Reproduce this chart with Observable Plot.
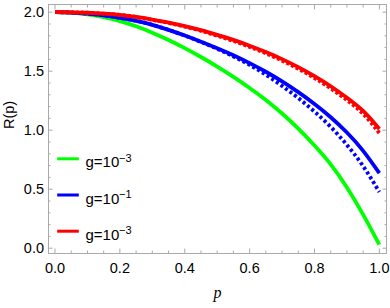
<!DOCTYPE html>
<html>
<head>
<meta charset="utf-8">
<script src="https://cdn.jsdelivr.net/npm/d3@7"></script>
<script src="https://cdn.jsdelivr.net/npm/@observablehq/plot@0.6"></script>
<style>
  html, body { margin: 0; padding: 0; background: #fff; }
</style>
</head>
<body>
<div id="chart"></div>
<script>
// ---- data ----
const pValues = [0, 0.05, 0.1, 0.15, 0.2, 0.25, 0.3, 0.35, 0.4, 0.45, 0.5, 0.55, 0.6, 0.65, 0.7, 0.75, 0.8, 0.85, 0.9, 0.95, 1.0];
const greenR      = [2.0, 1.996, 1.982, 1.958, 1.924, 1.880, 1.826, 1.764, 1.695, 1.620, 1.539, 1.452, 1.358, 1.256, 1.141, 1.013, 0.870, 0.710, 0.515, 0.285, 0.030];
const blueR       = [2.0, 1.997, 1.987, 1.972, 1.952, 1.927, 1.893, 1.850, 1.802, 1.750, 1.695, 1.635, 1.568, 1.495, 1.413, 1.322, 1.222, 1.110, 0.980, 0.825, 0.636];
const blueDashedR = [2.0, 1.997, 1.987, 1.972, 1.952, 1.927, 1.893, 1.850, 1.802, 1.748, 1.690, 1.625, 1.553, 1.470, 1.375, 1.272, 1.157, 1.028, 0.875, 0.695, 0.476];
const redR        = [2.0, 1.999, 1.995, 1.988, 1.978, 1.960, 1.937, 1.912, 1.882, 1.848, 1.808, 1.765, 1.716, 1.662, 1.602, 1.534, 1.458, 1.372, 1.275, 1.163, 1.010];
const redDashedR  = [2.0, 1.999, 1.995, 1.988, 1.978, 1.959, 1.935, 1.909, 1.877, 1.842, 1.800, 1.756, 1.706, 1.651, 1.589, 1.520, 1.442, 1.354, 1.255, 1.138, 0.975];

const xMajorTicks = [0, 0.2, 0.4, 0.6, 0.8, 1.0];
const xMinorTicks = [0.05, 0.1, 0.15, 0.25, 0.3, 0.35, 0.45, 0.5, 0.55, 0.65, 0.7, 0.75, 0.85, 0.9, 0.95];
const yMajorTicks = [0, 0.5, 1.0, 1.5, 2.0];
const yMinorTicks = [0.1, 0.2, 0.3, 0.4, 0.6, 0.7, 0.8, 0.9, 1.1, 1.2, 1.3, 1.4, 1.6, 1.7, 1.8, 1.9];

const legendColors = ["#00ff00", "#0000ff", "#ff0000"];
const legendBase = ["g=10", "g=10", "g=10"];
const legendExp = ["\u22123", "\u22121", "\u22123"];

const xLabel = "p";
const yLabel = "R(p)";

// ---- build tables ----
const toRows = (vals) => pValues.map((p, i) => ({p, R: vals[i]}));
const series = [
  {rows: toRows(greenR), color: "#00ff00", dash: null},
  {rows: toRows(blueR), color: "#0000ff", dash: null},
  {rows: toRows(blueDashedR), color: "#0000ff", dash: "3,2.6"},
  {rows: toRows(redR), color: "#ff0000", dash: null},
  {rows: toRows(redDashedR), color: "#ff0000", dash: "3,2.2"}
];

const frameColor = "#aaaaaa";
const hLine = {draw(context, l) { context.moveTo(0, 0); context.lineTo(0, -l); }};

const lineMarks = series.map(s => Plot.line(s.rows, {
  x: "p", y: "R", stroke: s.color, strokeWidth: 3.8,
  strokeDasharray: s.dash, strokeLinecap: "butt", curve: "natural"
}));

const legendMarks = legendColors.flatMap((c, i) => {
  const lineDy = 154.3 + i * 36.2;
  const baseDy = lineDy + 8.5;
  return [
    Plot.vector([c], {frameAnchor: "top-left", dx: 8.7, dy: lineDy, length: 21.6, rotate: 90,
      anchor: "start", shape: hLine, stroke: c, strokeWidth: 3, strokeLinecap: "butt"}),
    Plot.text([legendBase[i]], {frameAnchor: "top-left", dx: 37, dy: baseDy, text: d => d,
      textAnchor: "start", lineAnchor: "bottom", fontSize: 15, fill: "#000"}),
    Plot.text([legendExp[i]], {frameAnchor: "top-left", dx: 70.6, dy: baseDy - 5.5, text: d => d,
      textAnchor: "start", lineAnchor: "bottom", fontSize: 11, fill: "#000"})
  ];
});

const empty = () => "";

const chart = Plot.plot({
  width: 390,
  height: 308,
  marginLeft: 48,
  marginRight: 4,
  marginTop: 4,
  marginBottom: 55,
  x: {domain: [-0.02, 1.022]},
  y: {domain: [-0.045, 2.065]},
  style: {fontFamily: "'Liberation Sans', Arial, sans-serif", fontSize: "14.5px", color: "#000", background: "#fff"},
  marks: [
    Plot.frame({stroke: frameColor}),
    // inward ticks on all four sides
    Plot.axisX(xMajorTicks, {anchor: "bottom", tickSize: -4.5, tickFormat: empty, stroke: frameColor, label: null}),
    Plot.axisX(xMinorTicks, {anchor: "bottom", tickSize: -2.5, tickFormat: empty, stroke: frameColor, label: null}),
    Plot.axisX(xMajorTicks, {anchor: "top", tickSize: -4.5, tickFormat: empty, stroke: frameColor, label: null}),
    Plot.axisX(xMinorTicks, {anchor: "top", tickSize: -2.5, tickFormat: empty, stroke: frameColor, label: null}),
    Plot.axisY(yMajorTicks, {anchor: "left", tickSize: -4.5, tickFormat: empty, stroke: frameColor, label: null}),
    Plot.axisY(yMinorTicks, {anchor: "left", tickSize: -2.5, tickFormat: empty, stroke: frameColor, label: null}),
    Plot.axisY(yMajorTicks, {anchor: "right", tickSize: -4.5, tickFormat: empty, stroke: frameColor, label: null}),
    Plot.axisY(yMinorTicks, {anchor: "right", tickSize: -2.5, tickFormat: empty, stroke: frameColor, label: null}),
    // tick labels
    Plot.axisX(xMajorTicks, {anchor: "bottom", tickSize: 0, tickPadding: 9, tickFormat: d3.format(".1f"), label: null, fontSize: 14.5, fill: "#000"}),
    Plot.axisY(yMajorTicks, {anchor: "left", tickSize: 0, tickPadding: 4.5, tickFormat: d3.format(".1f"), label: null, fontSize: 14.5, fill: "#000"}),
    // curves
    ...lineMarks,
    // axis titles
    Plot.text([yLabel], {frameAnchor: "left", dx: -39, rotate: -90, text: d => d, fontSize: 14.5, fill: "#000"}),
    Plot.text([xLabel], {frameAnchor: "bottom", dy: 44, text: d => d, fontSize: 16, fontStyle: "italic",
      fontFamily: "'Liberation Serif', serif", fill: "#000"}),
    // legend
    ...legendMarks
  ]
});

document.getElementById("chart").appendChild(chart);
</script>
</body>
</html>
